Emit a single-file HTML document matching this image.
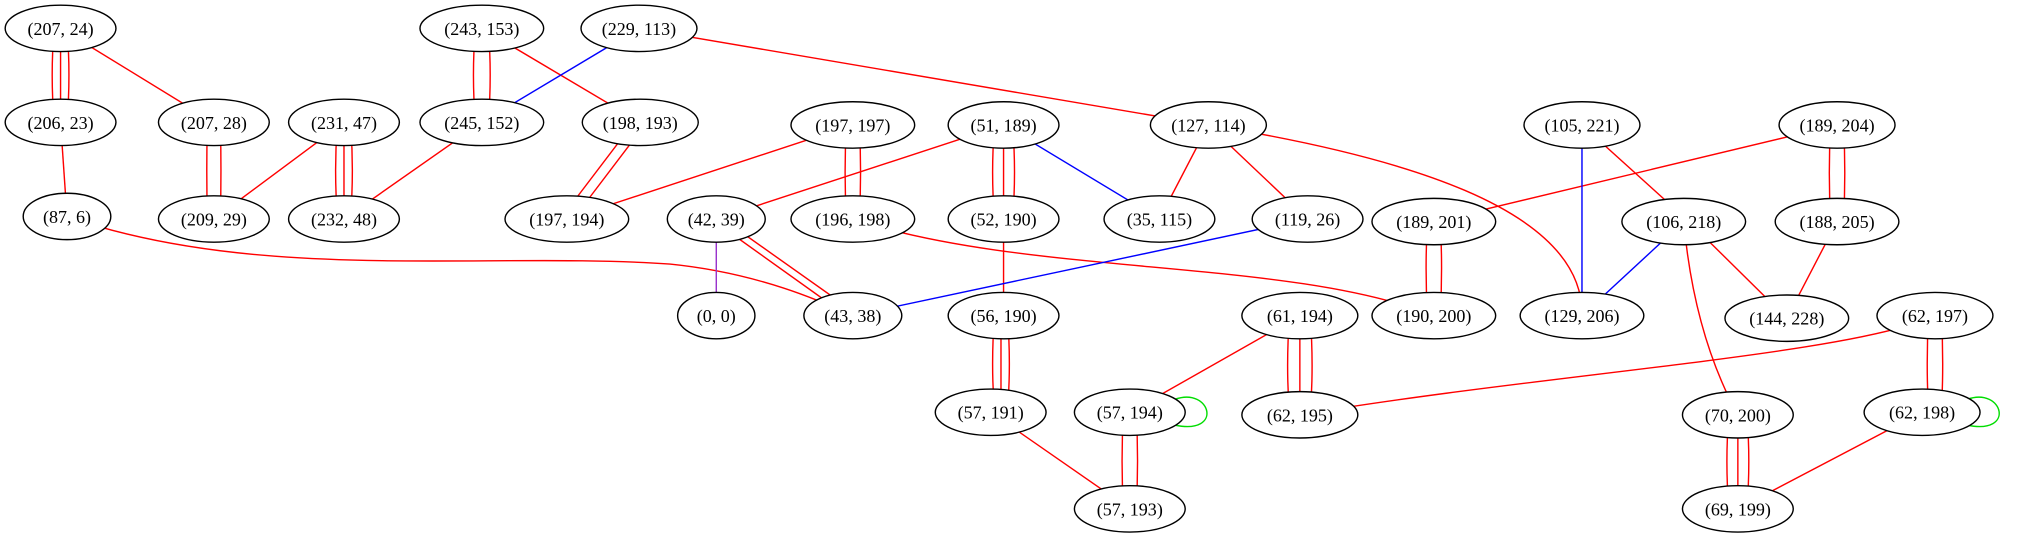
<!DOCTYPE html>
<html><head><meta charset="utf-8"><style>html,body{margin:0;padding:0;background:#fff}svg{display:block}</style></head><body>
<svg width="2020" height="539" viewBox="0 0 1568 418.4" xmlns="http://www.w3.org/2000/svg">
<g fill="none" stroke-width="1.1">
<g stroke="red">
<path d="M42,22 Q39,58 42,95"/><path d="M47,22 L47,95"/><path d="M52,22 Q55,58 52,95"/>
<path d="M47,22 L166,95"/>
<path d="M369,22 Q366,58 369,95"/><path d="M379,22 Q382,58 379,95"/>
<path d="M374,22 L497,95"/>
<path d="M496,22 L938,97"/>
<path d="M47,95 L52,168"/>
<path d="M161,95 Q160,132 161,170"/><path d="M171,95 Q172,132 171,170"/>
<path d="M267,95 L166,170"/>
<path d="M262,95 Q259,132 262,170"/><path d="M267,95 L267,170"/><path d="M272,95 Q275,132 272,170"/>
<path d="M374,95 L267,170"/>
<path d="M492,95 L435,170"/><path d="M502,95 L445,170"/>
<path d="M662,97 L440,170"/>
<path d="M657,97 Q655,134 657,170"/><path d="M667,97 Q669,134 667,170"/>
<path d="M779,97 L556,170"/>
<path d="M772,97 Q769,134 772,170"/><path d="M779,97 L779,170"/><path d="M786,97 Q789,134 786,170"/>
<path d="M938,97 L900,170"/>
<path d="M938,97 L1015,170"/>
<path d="M938,97 C1080,120 1230,160 1228,245"/>
<path d="M1228,97 L1311,172"/>
<path d="M1426,97 L1113,172"/>
<path d="M1421,97 Q1419,134 1421,172"/><path d="M1431,97 Q1433,134 1431,172"/>
<path d="M52,168 C200,220 380,195 520,205 C590,212 640,235 662,245"/>
<path d="M552,170 L657,245"/><path d="M561,170 L667,245"/>
<path d="M662,170 C800,215 1000,200 1113,245"/>
<path d="M779,170 L779,245"/>
<path d="M1108,172 Q1106,208 1108,245"/><path d="M1118,172 Q1120,208 1118,245"/>
<path d="M1311,172 L1387,247"/>
<path d="M1307,172 Q1315,260 1349,322"/>
<path d="M1426,172 L1387,247"/>
<path d="M772,245 Q769,282 772,320"/><path d="M777,245 L777,320"/><path d="M782,245 Q785,282 782,320"/>
<path d="M1009,245 L877,320"/>
<path d="M1001,245 Q998,284 1001,322"/><path d="M1009,245 L1009,322"/><path d="M1017,245 Q1020,284 1017,322"/>
<path d="M1502,245 C1440,275 1200,290 1009,322"/>
<path d="M1497,245 Q1495,282 1497,320"/><path d="M1507,245 Q1509,282 1507,320"/>
<path d="M769,320 L877,395"/>
<path d="M872,320 Q870,358 872,395"/><path d="M882,320 Q884,358 882,395"/>
<path d="M1342,322 Q1339,358 1342,395"/><path d="M1349,322 L1349,395"/><path d="M1356,322 Q1359,358 1356,395"/>
<path d="M1492,320 L1349,395"/>
</g>
<g stroke="blue">
<path d="M496,22 L374,95"/>
<path d="M779,97 L900,170"/>
<path d="M1228,97 L1228,245"/>
<path d="M1015,170 L662,245"/>
<path d="M1307,172 L1228,245"/>
</g>
<path stroke="#9933cc" d="M556,170 L556,245"/>
<g stroke="#00dd00">
<path d="M912,310 C940,300 950,338 912,330"/>
<path d="M1527,310 C1555,300 1565,338 1527,330"/>
</g>
</g>
<g fill="#fff" stroke="#000" stroke-width="1.1">
<ellipse cx="47" cy="22" rx="43" ry="18"/>
<ellipse cx="374" cy="22" rx="48" ry="18"/>
<ellipse cx="496" cy="22" rx="45" ry="18"/>
<ellipse cx="47" cy="95" rx="43" ry="18"/>
<ellipse cx="166" cy="95" rx="43" ry="18"/>
<ellipse cx="267" cy="95" rx="43" ry="18"/>
<ellipse cx="374" cy="95" rx="48" ry="18"/>
<ellipse cx="497" cy="95" rx="45" ry="18"/>
<ellipse cx="662" cy="97" rx="48" ry="18"/>
<ellipse cx="779" cy="97" rx="43" ry="18"/>
<ellipse cx="938" cy="97" rx="45" ry="18"/>
<ellipse cx="1228" cy="97" rx="45" ry="18"/>
<ellipse cx="1426" cy="97" rx="45" ry="18"/>
<ellipse cx="52" cy="168" rx="34" ry="18"/>
<ellipse cx="166" cy="170" rx="43" ry="18"/>
<ellipse cx="267" cy="170" rx="43" ry="18"/>
<ellipse cx="440" cy="170" rx="48" ry="18"/>
<ellipse cx="556" cy="170" rx="38" ry="18"/>
<ellipse cx="662" cy="170" rx="48" ry="18"/>
<ellipse cx="779" cy="170" rx="43" ry="18"/>
<ellipse cx="900" cy="170" rx="43" ry="18"/>
<ellipse cx="1015" cy="170" rx="43" ry="18"/>
<ellipse cx="1113" cy="172" rx="48" ry="18"/>
<ellipse cx="1307" cy="172" rx="48" ry="18"/>
<ellipse cx="1426" cy="172" rx="48" ry="18"/>
<ellipse cx="556" cy="245" rx="30" ry="18"/>
<ellipse cx="662" cy="245" rx="38" ry="18"/>
<ellipse cx="779" cy="245" rx="43" ry="18"/>
<ellipse cx="1009" cy="245" rx="45" ry="18"/>
<ellipse cx="1113" cy="245" rx="48" ry="18"/>
<ellipse cx="1228" cy="245" rx="48" ry="18"/>
<ellipse cx="1387" cy="247" rx="48" ry="18"/>
<ellipse cx="1502" cy="245" rx="45" ry="18"/>
<ellipse cx="769" cy="320" rx="43" ry="18"/>
<ellipse cx="877" cy="320" rx="43" ry="18"/>
<ellipse cx="1009" cy="322" rx="45" ry="18"/>
<ellipse cx="1349" cy="322" rx="43" ry="18"/>
<ellipse cx="1492" cy="320" rx="45" ry="18"/>
<ellipse cx="877" cy="395" rx="43" ry="18"/>
<ellipse cx="1349" cy="395" rx="43" ry="18"/>
</g>
<g font-family="Liberation Serif, serif" font-size="14" text-anchor="middle" fill="#000">
<text x="47" y="27">(207, 24)</text>
<text x="374" y="27">(243, 153)</text>
<text x="496" y="27">(229, 113)</text>
<text x="47" y="100">(206, 23)</text>
<text x="166" y="100">(207, 28)</text>
<text x="267" y="100">(231, 47)</text>
<text x="374" y="100">(245, 152)</text>
<text x="497" y="100">(198, 193)</text>
<text x="662" y="102">(197, 197)</text>
<text x="779" y="102">(51, 189)</text>
<text x="938" y="102">(127, 114)</text>
<text x="1228" y="102">(105, 221)</text>
<text x="1426" y="102">(189, 204)</text>
<text x="52" y="173">(87, 6)</text>
<text x="166" y="175">(209, 29)</text>
<text x="267" y="175">(232, 48)</text>
<text x="440" y="175">(197, 194)</text>
<text x="556" y="175">(42, 39)</text>
<text x="662" y="175">(196, 198)</text>
<text x="779" y="175">(52, 190)</text>
<text x="900" y="175">(35, 115)</text>
<text x="1015" y="175">(119, 26)</text>
<text x="1113" y="177">(189, 201)</text>
<text x="1307" y="177">(106, 218)</text>
<text x="1426" y="177">(188, 205)</text>
<text x="556" y="250">(0, 0)</text>
<text x="662" y="250">(43, 38)</text>
<text x="779" y="250">(56, 190)</text>
<text x="1009" y="250">(61, 194)</text>
<text x="1113" y="250">(190, 200)</text>
<text x="1228" y="250">(129, 206)</text>
<text x="1387" y="252">(144, 228)</text>
<text x="1502" y="250">(62, 197)</text>
<text x="769" y="325">(57, 191)</text>
<text x="877" y="325">(57, 194)</text>
<text x="1009" y="327">(62, 195)</text>
<text x="1349" y="327">(70, 200)</text>
<text x="1492" y="325">(62, 198)</text>
<text x="877" y="400">(57, 193)</text>
<text x="1349" y="400">(69, 199)</text>
</g>
</svg>
</body></html>
